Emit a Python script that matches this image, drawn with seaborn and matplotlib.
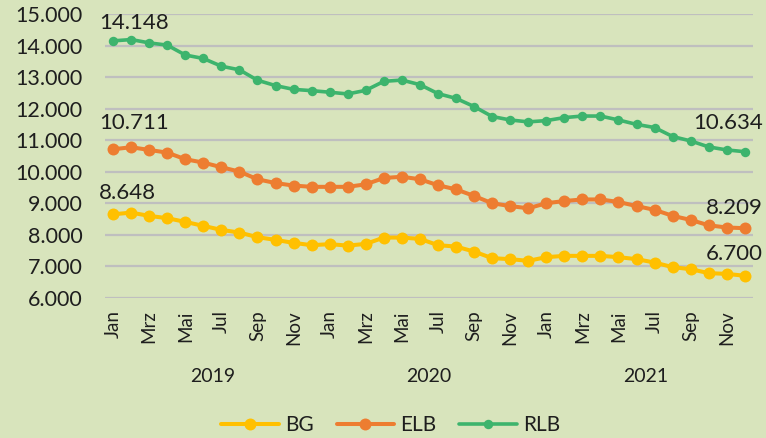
import numpy as np
import pandas as pd
import matplotlib
matplotlib.use("Agg")
import matplotlib.pyplot as plt
import matplotlib.transforms as mtransforms
from matplotlib.ticker import FuncFormatter
import seaborn as sns

# monthly values Jan 2019 .. Dec 2021
month_names = ["Jan", "Feb", "Mrz", "Apr", "Mai", "Jun",
               "Jul", "Aug", "Sep", "Okt", "Nov", "Dez"]
years = ["2019", "2020", "2021"]

bg = [8648, 8703, 8599, 8526, 8409, 8282, 8155, 8070, 7924, 7838, 7743, 7670,
      7702, 7657, 7711, 7911, 7911, 7870, 7670, 7626, 7467, 7258, 7227, 7173,
      7290, 7331, 7331, 7331, 7290, 7227, 7119, 6973, 6909, 6783, 6760, 6700]
elb = [10711, 10776, 10690, 10605, 10396, 10288, 10142, 10003, 9760, 9640, 9560, 9520,
       9520, 9520, 9600, 9800, 9840, 9760, 9570, 9440, 9230, 9000, 8910, 8840,
       9000, 9070, 9120, 9120, 9040, 8910, 8790, 8600, 8470, 8300, 8230, 8209]
rlb = [14148, 14190, 14085, 14013, 13700, 13590, 13345, 13230, 12900, 12730, 12610, 12570,
       12520, 12465, 12580, 12865, 12905, 12760, 12475, 12325, 12065, 11750, 11640, 11580,
       11620, 11715, 11765, 11765, 11640, 11500, 11400, 11115, 10975, 10785, 10690, 10634]

series_names = ["BG", "ELB", "RLB"]
series_values = [bg, elb, rlb]
colors = ["#FFC000", "#ED7D31", "#3DB46D"]

n = len(bg)
idx = np.arange(n)
df = pd.DataFrame({"idx": np.tile(idx, 3),
                   "value": np.concatenate(series_values),
                   "series": np.repeat(series_names, n)})

sns.set_style("white")
plt.rcParams["font.family"] = ["Lato", "DejaVu Sans"]
bgc = "#D8E4BC"
txt = "#1E1E1E"

fig = plt.figure(figsize=(7.66, 4.38), dpi=100, facecolor=bgc)
ax = fig.add_axes([0.137, 0.320, 0.846, 0.648], facecolor=bgc)

msizes = [8.6, 8.6, 6.8]
lwidths = [2.9, 2.9, 2.6]
for name, col, ms, lw in zip(series_names, colors, msizes, lwidths):
    sns.lineplot(data=df[df["series"] == name], x="idx", y="value", ax=ax,
                 color=col, marker="o", markersize=ms, markeredgewidth=0,
                 linewidth=lw, label=name, zorder=3)

ax.set_ylim(6000, 15000)
ax.set_yticks(np.arange(6000, 15001, 1000))
ax.yaxis.set_major_formatter(FuncFormatter(lambda v, p: f"{int(v):,}".replace(",", ".")))
ax.set_xlim(-0.45, n - 0.55)
ax.set_xticks(idx[::2])
ax.set_xticklabels([month_names[i % 12] for i in idx[::2]], rotation=90)
ax.grid(axis="y", color="#BFBFBF", linewidth=1.6)
ax.grid(axis="x", visible=False)
for s in ax.spines.values():
    s.set_visible(False)
ax.tick_params(axis="y", length=0, pad=16, labelsize=15.5, labelcolor=txt)
ax.tick_params(axis="x", length=0, pad=9, labelsize=13.5, labelcolor=txt)
ax.set_xlabel("")
ax.set_ylabel("")

# year group labels
trans = mtransforms.blended_transform_factory(ax.transData, fig.transFigure)
for k, yr in enumerate(years):
    ax.text(k * 12 + 5.5, 1 - 376 / 438, yr, transform=trans, ha="center",
            va="center", fontsize=14, color=txt)

# first / last value labels
fmt = lambda v: f"{v:,}".replace(",", ".")
first_off = [15.5, 19, 13]
last_off = [16, 14.5, 21]
for vals, fo, lo in zip(series_values, first_off, last_off):
    ax.annotate(fmt(vals[0]), (0, vals[0]), xytext=(-10, fo),
                textcoords="offset points", ha="left", va="center",
                fontsize=16, color=txt)
    ax.annotate(fmt(vals[-1]), (n - 1, vals[-1]), xytext=(13, lo),
                textcoords="offset points", ha="right", va="center",
                fontsize=16, color=txt)

ax.legend(loc="center", bbox_to_anchor=(0.51, 1 - 425 / 438),
          bbox_transform=fig.transFigure, ncol=3, frameon=False,
          fontsize=15, handlelength=2.75, columnspacing=1.1, handletextpad=0.3,
          labelcolor=txt)

fig.savefig("out.png", dpi=100, facecolor=bgc)
